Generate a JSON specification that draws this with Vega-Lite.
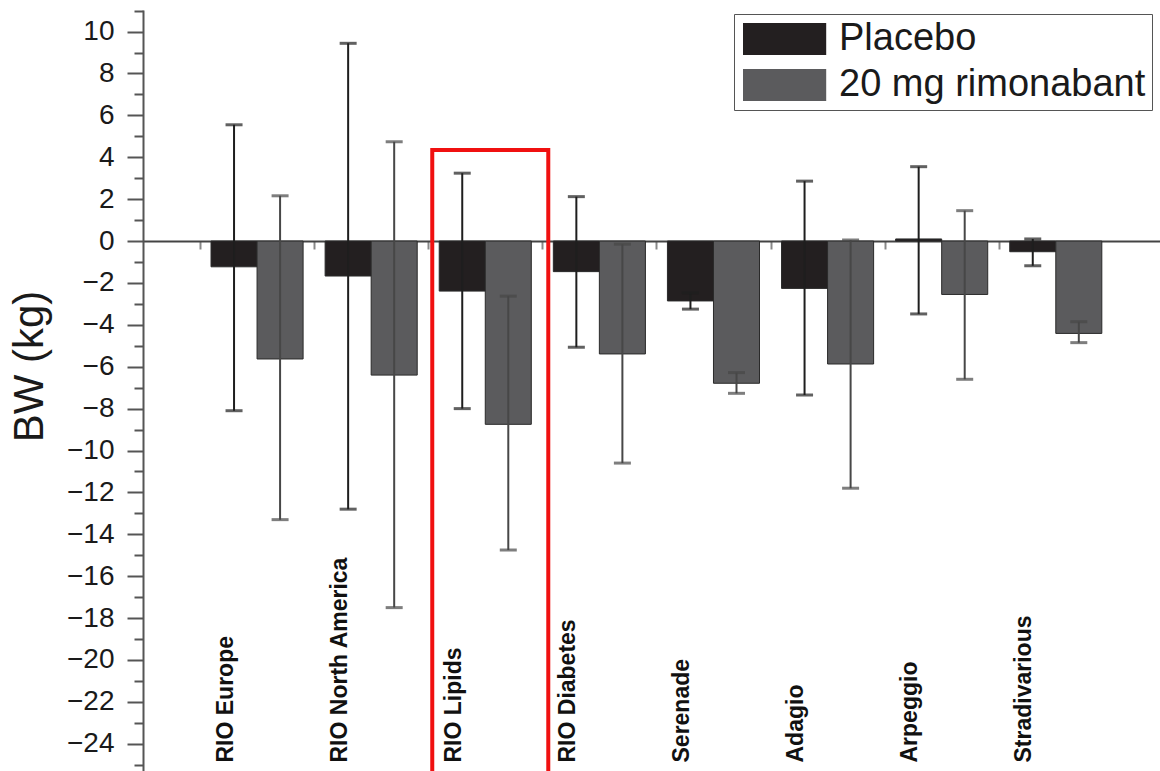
{
  "$schema": "https://vega.github.io/schema/vega-lite/v6.json",
  "width": 1017,
  "height": 761,
  "autosize": {"type": "none"},
  "padding": {"left": 143, "top": 10, "right": 0, "bottom": 0},
  "background": "white",
  "config": {"view": {"stroke": null}, "font": "Liberation Sans"},
  "data": {
    "values": [
      {"study": "RIO Europe", "group": "Placebo", "value": -1.23, "lo": -8.1, "hi": 5.55},
      {"study": "RIO Europe", "group": "20 mg rimonabant", "value": -5.63, "lo": -13.3, "hi": 2.16},
      {"study": "RIO North America", "group": "Placebo", "value": -1.67, "lo": -12.8, "hi": 9.44},
      {"study": "RIO North America", "group": "20 mg rimonabant", "value": -6.4, "lo": -17.5, "hi": 4.74},
      {"study": "RIO Lipids", "group": "Placebo", "value": -2.39, "lo": -8.0, "hi": 3.24},
      {"study": "RIO Lipids", "group": "20 mg rimonabant", "value": -8.75, "lo": -14.75, "hi": -2.63},
      {"study": "RIO Diabetes", "group": "Placebo", "value": -1.46, "lo": -5.07, "hi": 2.12},
      {"study": "RIO Diabetes", "group": "20 mg rimonabant", "value": -5.39, "lo": -10.6, "hi": -0.15},
      {"study": "Serenade", "group": "Placebo", "value": -2.86, "lo": -3.25, "hi": -2.47},
      {"study": "Serenade", "group": "20 mg rimonabant", "value": -6.79, "lo": -7.27, "hi": -6.28},
      {"study": "Adagio", "group": "Placebo", "value": -2.26, "lo": -7.35, "hi": 2.86},
      {"study": "Adagio", "group": "20 mg rimonabant", "value": -5.87, "lo": -11.8, "hi": 0.05},
      {"study": "Arpeggio", "group": "Placebo", "value": 0.1, "lo": -3.48, "hi": 3.55},
      {"study": "Arpeggio", "group": "20 mg rimonabant", "value": -2.55, "lo": -6.6, "hi": 1.45},
      {"study": "Stradivarious", "group": "Placebo", "value": -0.51, "lo": -1.18, "hi": 0.1},
      {"study": "Stradivarious", "group": "20 mg rimonabant", "value": -4.41, "lo": -4.85, "hi": -3.85}
    ]
  },
  "encoding": {
    "x": {
      "field": "study",
      "type": "nominal",
      "sort": null,
      "scale": {"paddingInner": 0.193, "paddingOuter": 0.553, "align": 0.539},
      "axis": {
        "title": null,
        "orient": "bottom",
        "offset": -530,
        "domain": true,
        "domainColor": "#444444",
        "domainWidth": 2,
        "ticks": true,
        "tickColor": "#888888",
        "tickWidth": 2,
        "tickSize": 8,
        "bandPosition": 0,
        "tickOffset": -11,
        "labelAngle": -90,
        "labelAlign": "left",
        "labelBaseline": "middle",
        "labelPadding": 513,
        "labelOffset": -21,
        "labelFont": "Liberation Sans",
        "labelFontSize": 23,
        "labelFontWeight": "bold",
        "labelColor": "#111111",
        "labelLimit": 0
      }
    }
  },
  "layer": [
    {
      "mark": {"type": "bar", "stroke": "#2a2a2a", "strokeWidth": 1},
      "encoding": {
        "xOffset": {"field": "group", "type": "nominal", "sort": null, "scale": {"paddingInner": 0, "paddingOuter": 0}},
        "y": {
          "field": "value",
          "type": "quantitative",
          "scale": {"domain": [-25.3, 11.03], "nice": false, "zero": false},
          "axis": {
            "title": "BW (kg)",
            "values": [-25, -24, -23, -22, -21, -20, -19, -18, -17, -16, -15, -14, -13, -12, -11, -10, -9, -8, -7, -6, -5, -4, -3, -2, -1, 0, 1, 2, 3, 4, 5, 6, 7, 8, 9, 10, 11],
            "tickCount": 100,
            "format": "d",
            "labelExpr": "datum.value % 2 === 0 && datum.value >= -24 && datum.value <= 10 ? datum.label : ''",
            "labelOverlap": false,
            "labelBound": false,
            "labelFlush": false,
            "grid": false,
            "domainColor": "#555555",
            "domainWidth": 2,
            "tickColor": "#555555",
            "tickWidth": 2,
            "tickSize": 16,
            "tickDash": {"condition": {"test": "datum.value % 2 !== 0", "value": [9, 40]}, "value": [40, 0]},
            "labelFont": "Liberation Sans",
            "labelFontSize": 28,
            "labelColor": "#1a1a1a",
            "labelPadding": 13,
            "titleFont": "Liberation Sans",
            "titleFontSize": 42,
            "titleFontWeight": "normal",
            "titleColor": "#1a1a1a",
            "titleAngle": -90,
            "titleX": -114,
            "titleY": 356,
            "titleAlign": "center",
            "titleBaseline": "middle"
          }
        },
        "color": {
          "field": "group",
          "type": "nominal",
          "sort": null,
          "scale": {"domain": ["Placebo", "20 mg rimonabant"], "range": ["#231f20", "#5b5b5d"]},
          "legend": {
            "title": null,
            "orient": "none",
            "legendX": 591,
            "legendY": 4,
            "direction": "vertical",
            "symbolType": "M-1,-1H4.2V1H-1Z",
            "symbolSize": 1024,
            "symbolStrokeWidth": 0,
            "symbolOpacity": 1,
            "labelFont": "Liberation Sans",
            "labelFontSize": 38,
            "labelColor": "#1a1a1a",
            "labelOffset": 61,
            "labelLimit": 0,
            "rowPadding": 8,
            "padding": 6,
            "strokeColor": "#555555",
            "fillColor": "white",
            "encode": {"legend": {"update": {"strokeWidth": {"value": 1.5}}}}
          }
        }
      }
    },
    {
      "mark": {"type": "rule", "strokeWidth": 2},
      "encoding": {
        "xOffset": {"field": "group", "type": "nominal", "sort": null},
        "y": {"field": "lo", "type": "quantitative"},
        "y2": {"field": "hi"},
        "color": {"condition": {"test": "datum.group === 'Placebo'", "value": "#1e1e1e"}, "value": "#474747"}
      }
    },
    {
      "mark": {"type": "tick", "size": 17, "thickness": 3},
      "encoding": {
        "xOffset": {"field": "group", "type": "nominal", "sort": null},
        "y": {"field": "lo", "type": "quantitative"},
        "color": {"condition": {"test": "datum.group === 'Placebo'", "value": "#1e1e1e"}, "value": "#474747"}
      }
    },
    {
      "mark": {"type": "tick", "size": 17, "thickness": 3},
      "encoding": {
        "xOffset": {"field": "group", "type": "nominal", "sort": null},
        "y": {"field": "hi", "type": "quantitative"},
        "color": {"condition": {"test": "datum.group === 'Placebo'", "value": "#1e1e1e"}, "value": "#474747"}
      }
    },
    {
      "data": {"values": [{"study": "RIO Lipids", "top": 4.35, "bottom": -26.5}]},
      "mark": {"type": "rect", "fill": null, "filled": false, "stroke": "#f01010", "strokeWidth": 4, "width": {"band": 1.26}, "xOffset": 5, "clip": false},
      "encoding": {
        "y": {"field": "top", "type": "quantitative"},
        "y2": {"field": "bottom"}
      }
    }
  ]
}
